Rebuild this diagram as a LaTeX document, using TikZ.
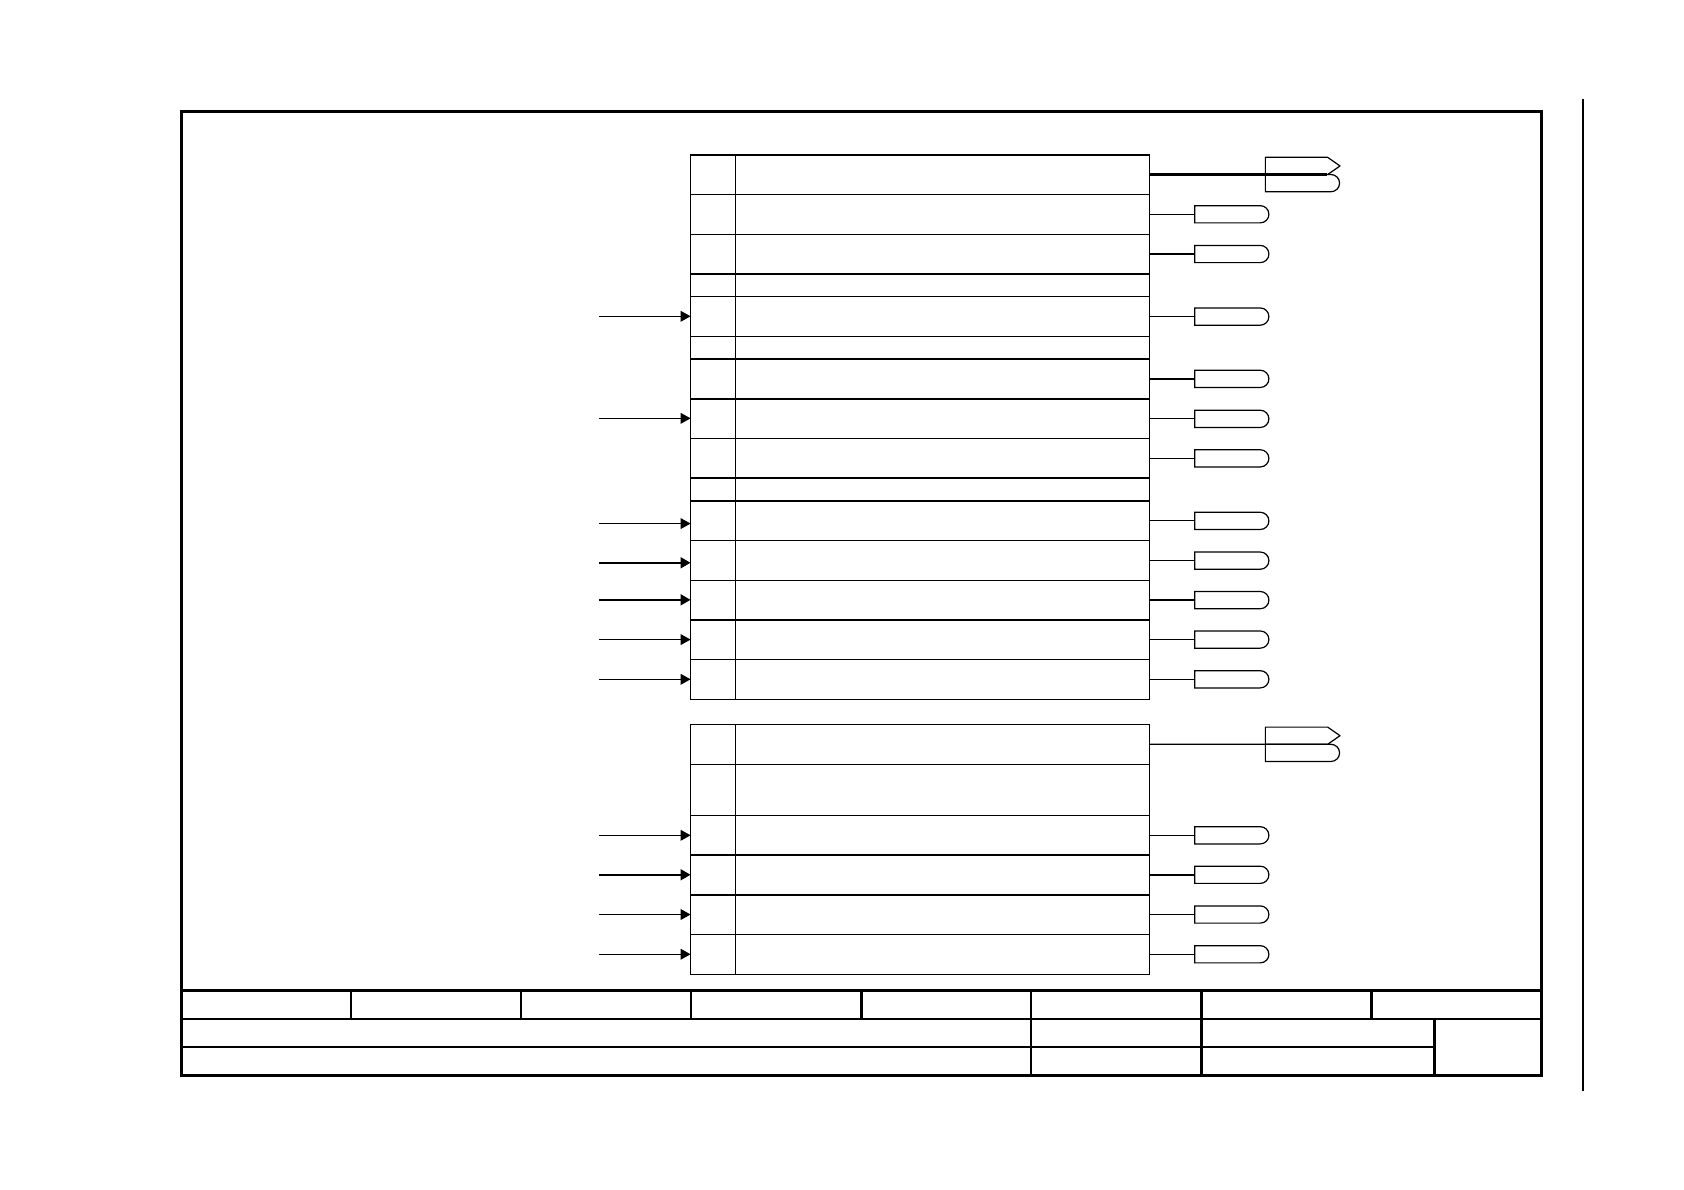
\documentclass[tikz,border=0pt]{standalone}
\usetikzlibrary{arrows.meta,shapes.misc}
\tikzset{
  x=0.537pt,y=-0.537pt,
  thinln/.style={line width=0.6pt,black},
  thickln/.style={line width=1.1pt,black},
  frameln/.style={line width=1.5pt,black},
  titleln/.style={line width=1.25pt,black},
  rowcell/.style={draw,thinln,rectangle,inner sep=0pt,outer sep=0pt,anchor=north west,minimum width=229.3pt},
  tag/.style={draw,thinln,rounded rectangle,rounded rectangle left arc=none,rounded rectangle arc length=180,inner sep=0pt,outer sep=0pt,minimum width=37.1pt,minimum height=8.6pt,anchor=west},
  halftag/.style={tag},
  inarrow/.style={-{Triangle[length=5pt,width=5.4pt]}},
}
\begin{document}
\begin{tikzpicture}
\useasboundingbox (0,0) rectangle (1568,1108);
% outer frame and title block
\node[draw,frameln,rectangle,inner sep=0pt,outer sep=0pt,anchor=north west,minimum width=680.2pt,minimum height=482.0pt] (frame) at (168.9,103.5) {};
\draw[thinln] (1474,92) -- (1474,1016);
\draw[frameln] (168.9,922) -- (1435.5,922);
\draw[titleln] (168.9,948.8) -- (1435.5,948.8);
\draw[titleln] (168.9,975) -- (1335.5,975);
\foreach \xx in {327,485,643.5,802,1277} \draw[titleln] (\xx,922) -- (\xx,948.8);
\foreach \xx in {960,1118.5} \draw[titleln] (\xx,922) -- (\xx,1001);
\draw[titleln] (1335.5,948.8) -- (1335.5,1001);
% rows
\foreach \n/\a/\b in {1/144/181,2/181/218,3/218/255,4/255/276,5/276/313.5,6/313.5/334,7/334/371.5,8/371.5/408.5,9/408.5/445,10/445/466.5,11/466.5/503.5,12/503.5/540.5,13/540.5/577,14/577/614,15/614/651,
 21/674.5/711.5,22/711.5/759,23/759.5/796,24/796/833,25/833/870,26/870/907}
  \node[rowcell,minimum height={0.537pt*(\b-\a)}] (r\n) at (643,\a) {};
\draw[thinln] (685,144) -- (685,651);
\draw[thinln] (685,674.5) -- (685,907);
\foreach \yy in {144,255,334,371.5,445,466.5,577,796,833}
  \draw[thickln] (643,\yy) -- (1070,\yy);
% outputs
\coordinate (outx) at (1112.4,0);
\foreach \n/\w in {2/thinln,3/thickln,5/thinln,7/thickln,8/thinln,9/thinln,11/thinln,12/thinln,13/thickln,14/thinln,15/thinln,23/thinln,24/thickln,25/thinln,26/thinln}{
  \node[tag] (o\n) at (outx |- r\n.east) {};
  \draw[\w] (r\n.east) -- (o\n.west);
}
% double off-page connectors
\foreach \n/\yy/\w in {1/162.5/thickln,21/693/thinln}{
  \coordinate (dl\n) at (1178.2,\yy);
  \node[halftag,anchor=north west] (db\n) at (dl\n) {};
  \draw[thinln,line join=round] (dl\n) -- ++(0,-16) -- ++(58,0) -- ++(11.5,8) -- ++(-11.5,8);
  \coordinate (de\n) at (1236,\yy);
  \draw[\w] (r\n.east) -- (de\n);
}
% inputs
\foreach \n/\yy/\w in {5/294.5/thinln,8/389.5/thinln,11/487.5/thinln,12/524/thickln,13/558.5/thickln,14/595.5/thinln,15/632.5/thinln,23/777.75/thinln,24/814.5/thickln,25/851.5/thinln,26/888.5/thinln}{
  \coordinate (i\n) at (557.5,\yy);
  \draw[\w,inarrow] (i\n) -- (r\n.west |- i\n);
}
\end{tikzpicture}
\end{document}
